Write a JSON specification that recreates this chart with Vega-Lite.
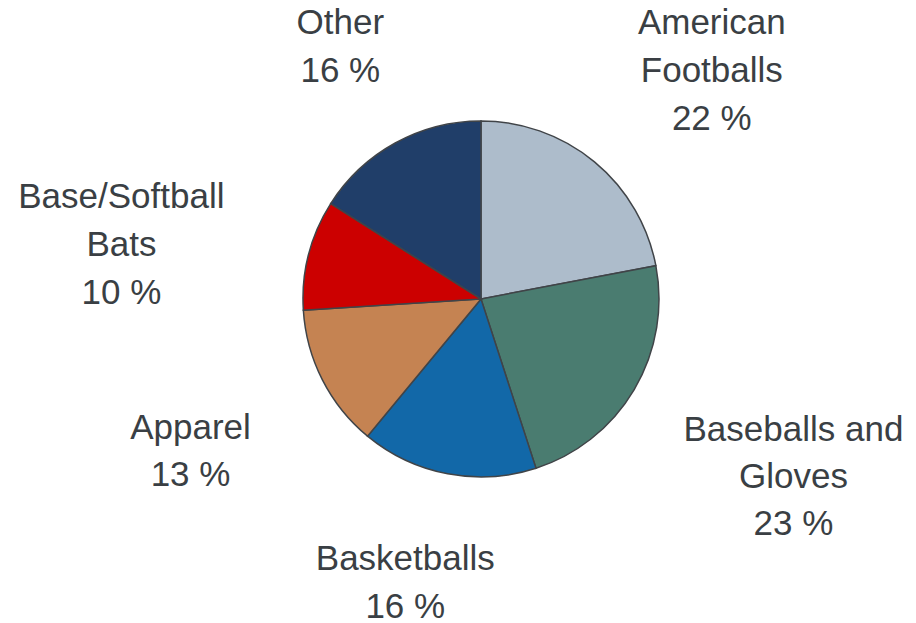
{
  "$schema": "https://vega.github.io/schema/vega-lite/v6.json",
  "width": 870,
  "height": 598,
  "autosize": {"type": "none"},
  "padding": {"left": 46, "top": 0, "right": 0, "bottom": 25},
  "background": "white",
  "view": {"stroke": null},
  "data": {
    "values": [
      {"rank": 1, "category": "American Footballs", "value": 22, "label": ["American", "Footballs", "22 %"]},
      {"rank": 2, "category": "Baseballs and Gloves", "value": 23, "label": ["Baseballs and", "Gloves", "23 %"]},
      {"rank": 3, "category": "Basketballs", "value": 16, "label": ["Basketballs", "16 %"]},
      {"rank": 4, "category": "Apparel", "value": 13, "label": ["Apparel", "13 %"]},
      {"rank": 5, "category": "Base/Softball Bats", "value": 10, "label": ["Base/Softball", "Bats", "10 %"]},
      {"rank": 6, "category": "Other", "value": 16, "label": ["Other", "16 %"]}
    ]
  },
  "encoding": {
    "theta": {"field": "value", "type": "quantitative", "stack": true},
    "order": {"field": "rank", "type": "quantitative"},
    "color": {
      "field": "category",
      "type": "nominal",
      "sort": null,
      "legend": null,
      "scale": {
        "domain": ["American Footballs", "Baseballs and Gloves", "Basketballs", "Apparel", "Base/Softball Bats", "Other"],
        "range": ["#adbccb", "#4a7c70", "#1268a8", "#c58352", "#cc0000", "#203e69"]
      }
    }
  },
  "layer": [
    {
      "mark": {"type": "arc", "outerRadius": 178, "stroke": "#404448", "strokeWidth": 1.5}
    },
    {
      "mark": {"type": "text", "radius": 292, "dy": -20, "font": "Liberation Sans", "fontSize": 35, "lineHeight": 48, "align": "center", "baseline": "middle"},
      "encoding": {
        "text": {"condition": {"test": "datum.category === 'Other'", "field": "label"}, "value": ""},
        "color": {"value": "#3a3f44"}
      }
    },
    {
      "mark": {"type": "text", "radius": 292, "dx": -21, "dy": -27, "font": "Liberation Sans", "fontSize": 35, "lineHeight": 48, "align": "center", "baseline": "middle"},
      "encoding": {
        "text": {"condition": {"test": "datum.category === 'Basketballs'", "field": "label"}, "value": ""},
        "color": {"value": "#3a3f44"}
      }
    },
    {
      "mark": {"type": "text", "radius": 326, "dy": -19, "font": "Liberation Sans", "fontSize": 35, "lineHeight": 47, "align": "center", "baseline": "middle"},
      "encoding": {
        "text": {"condition": {"test": "datum.category === 'Apparel'", "field": "label"}, "value": ""},
        "color": {"value": "#3a3f44"}
      }
    },
    {
      "mark": {"type": "text", "radius": 326, "dx": 23, "dy": -25, "font": "Liberation Sans", "fontSize": 35, "lineHeight": 48, "align": "center", "baseline": "middle"},
      "encoding": {
        "text": {"condition": {"test": "datum.category === 'American Footballs'", "field": "label"}, "value": ""},
        "color": {"value": "#3a3f44"}
      }
    },
    {
      "mark": {"type": "text", "radius": 363, "dy": -54, "font": "Liberation Sans", "fontSize": 35, "lineHeight": 47, "align": "center", "baseline": "middle"},
      "encoding": {
        "text": {"condition": {"test": "datum.category === 'Baseballs and Gloves'", "field": "label"}, "value": ""},
        "color": {"value": "#3a3f44"}
      }
    },
    {
      "mark": {"type": "text", "radius": 363, "dx": -8, "dy": -12, "font": "Liberation Sans", "fontSize": 35, "lineHeight": 48, "align": "center", "baseline": "middle"},
      "encoding": {
        "text": {"condition": {"test": "datum.category === 'Base/Softball Bats'", "field": "label"}, "value": ""},
        "color": {"value": "#3a3f44"}
      }
    }
  ]
}
